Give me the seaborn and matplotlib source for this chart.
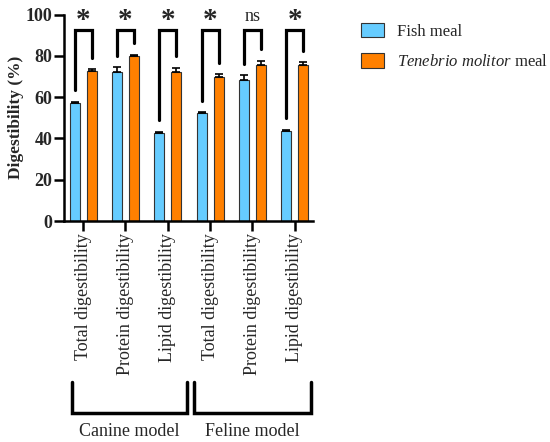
import numpy as np
import pandas as pd
import seaborn as sns
import matplotlib
matplotlib.use("Agg")
import matplotlib.pyplot as plt
import matplotlib.transforms as mtransforms

# Dados
chaves = ['C-Total', 'C-Protein', 'C-Lipid', 'F-Total', 'F-Protein', 'F-Lipid']
rotulos = ['Total digestibility', 'Protein digestibility', 'Lipid digestibility',
           'Total digestibility', 'Protein digestibility', 'Lipid digestibility']
peixe = [57.3, 72.0, 42.5, 52.3, 68.2, 43.7]
peixe_erro = [0.5, 2.6, 0.8, 0.3, 2.4, 0.5]
tenebrio = [72.8, 79.9, 72.0, 69.7, 75.4, 75.8]
tenebrio_erro = [0.6, 0.7, 2.3, 1.5, 2.2, 1.1]
signif = ['*', '*', '*', '*', 'ns', '*']
modelos = ['Canine model', 'Feline model']
series = ['Fish meal', r'$\it{Tenebrio\ molitor}$ meal']
cores = ['#66CCFF', '#FF8000']

df = pd.DataFrame({
    'chave': chaves * 2,
    'valor': peixe + tenebrio,
    'erro': peixe_erro + tenebrio_erro,
    'dieta': [series[0]] * 6 + [series[1]] * 6,
})

sns.set_style("ticks")
plt.rcParams['font.family'] = ['Liberation Serif', 'DejaVu Serif']
plt.rcParams['mathtext.fontset'] = 'custom'
plt.rcParams['mathtext.rm'] = 'Liberation Serif'
plt.rcParams['mathtext.it'] = 'Liberation Serif:italic'

fig = plt.figure(figsize=(5.5, 4.42), dpi=100)
ax = fig.add_axes([64 / 550, 0.5, 249 / 550, 0.467])

sns.barplot(data=df, x='chave', y='valor', hue='dieta', order=chaves,
            hue_order=series, palette=cores, saturation=1, width=0.8, gap=0.41,
            errorbar=None, edgecolor='#333333', linewidth=0.8, ax=ax)

# barras de erro só para cima
barras = ax.patches[:12]
xs = [b.get_x() + b.get_width() / 2 for b in barras]
vals = df['valor'].tolist()
errs = df['erro'].tolist()
ax.errorbar(xs, vals, yerr=[np.zeros(12), errs], fmt='none', ecolor='black',
            elinewidth=1.2, capsize=3, capthick=1.2, zorder=3)

# colchetes de significância
topo = 92.4
for i in range(6):
    xa, xb = xs[i], xs[i + 6]
    ya = peixe[i] + peixe_erro[i] + 5.5
    yb = tenebrio[i] + tenebrio_erro[i] + 5.5
    ax.plot([xa, xa, xb, xb], [ya, topo, topo, yb], color='black', lw=2.3,
            solid_joinstyle='miter', clip_on=False)
    if signif[i] == '*':
        ax.text(i, 97, '*', ha='center', va='center', fontsize=21,
                fontweight='bold')
    else:
        ax.text(i, 99.3, 'ns', ha='center', va='center', fontsize=13)

ax.set_ylim(0, 100)
ax.set_xlim(-0.45, 5.43)
ax.set_yticks([0, 20, 40, 60, 80, 100])
ax.set_xticks(range(6))
ax.set_xticklabels(rotulos, rotation=90, fontsize=13)
for t in ax.get_yticklabels():
    t.set_fontweight('bold')
    t.set_fontsize(13)
ax.tick_params(width=1.8, length=7, color='black', pad=1.5)
ax.set_xlabel('')
ax.set_ylabel('Digestibility (%)', fontsize=12.5, fontweight='bold', labelpad=1)
for s in ['left', 'bottom']:
    ax.spines[s].set_linewidth(1.8)
    ax.spines[s].set_color('black')
sns.despine(ax=ax)

# colchetes dos modelos
trans = mtransforms.blended_transform_factory(ax.transData, ax.transAxes)
for (x0, x1), nome in zip([(-0.26, 2.45), (2.62, 5.38)], modelos):
    ax.plot([x0, x0, x1, x1], [-0.78, -0.93, -0.93, -0.78], color='black',
            lw=2.5, transform=trans, clip_on=False, solid_joinstyle='miter')
    ax.text((x0 + x1) / 2, -1.02, nome, ha='center', va='center',
            fontsize=13, transform=trans)

h, l = ax.get_legend_handles_labels()
ax.get_legend().remove()
fig.legend(h, l, loc='upper left', bbox_to_anchor=(361 / 550, 1 - 23 / 442),
           frameon=False, fontsize=12, handlelength=1.35, handleheight=0.95,
           labelspacing=0.8, handletextpad=0.8, borderpad=0, borderaxespad=0)

fig.savefig('out.png', dpi=100)
